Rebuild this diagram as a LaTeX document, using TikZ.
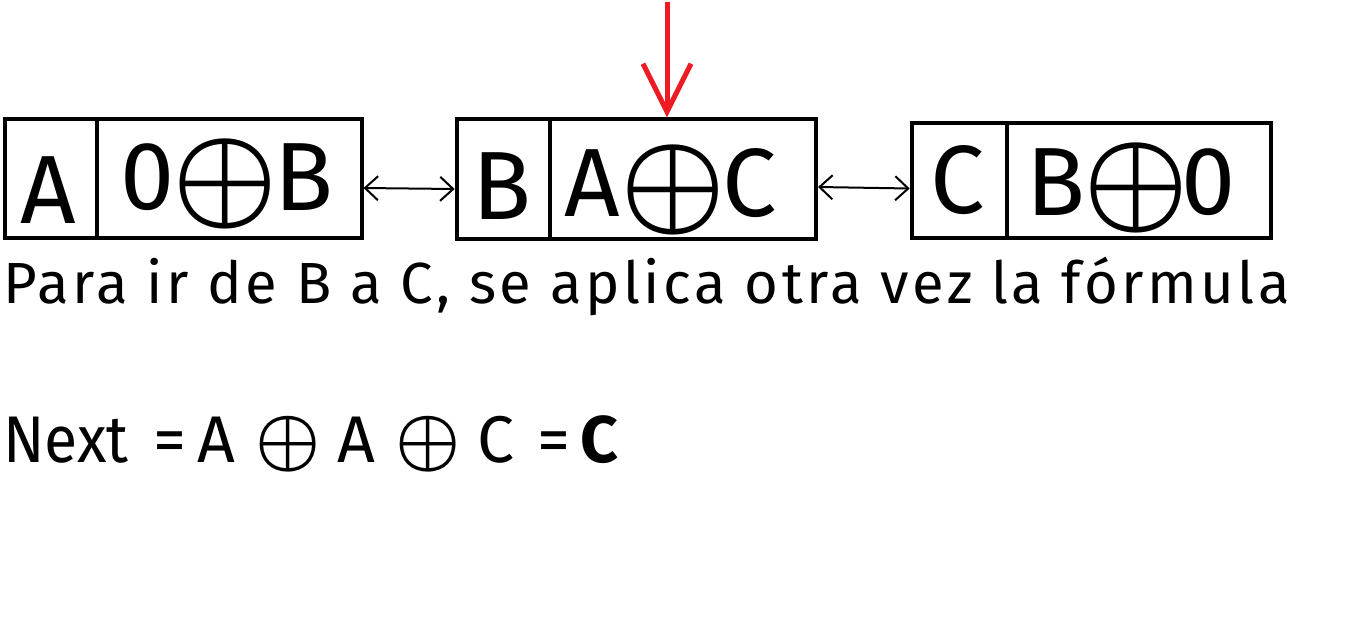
\documentclass[tikz,border=0pt]{standalone}
\usepackage{fontspec}
\setmainfont{Fira Sans}
\usetikzlibrary{arrows.meta}
\definecolor{pred}{RGB}{237,28,36}
\newcommand{\oxs}[1]{{\fontsize{10}{12}\selectfont\scalebox{#1}{\boldmath$\oplus$}}}
\begin{document}
\begin{tikzpicture}[x=1pt,y=-1pt,
  cell/.style={draw, line width=4pt, inner sep=0pt},
  big/.style={font=\fontsize{97}{100}\selectfont, inner sep=0pt},
  ox/.style={inner sep=0pt},
  link/.style={{Straight Barb[length=13pt,width=24pt]}-{Straight Barb[length=13pt,width=24pt]}, line width=2pt},
  txt/.style={font=\fontsize{58}{60}\selectfont\addfontfeatures{LetterSpace=6.0}, inner sep=0pt, anchor=base west},
  txtb/.style={font=\fontsize{66}{70}\selectfont, inner sep=0pt, anchor=base west}]
\useasboundingbox (0,0) rectangle (1364,616);
% box 1
\node[cell, minimum width=91.7pt, minimum height=119pt] (b1l) at (50.9,178) {};
\node[cell, minimum width=264.8pt, minimum height=119pt] (b1r) at (229.1,178) {};
% box 2
\node[cell, minimum width=93.3pt, minimum height=119.4pt] (b2l) at (503.3,179) {};
\node[cell, minimum width=266pt, minimum height=119.4pt] (b2r) at (683,179) {};
% box 3
\node[cell, minimum width=95pt, minimum height=115.6pt] (b3l) at (959.2,180.5) {};
\node[cell, minimum width=264pt, minimum height=115.6pt] (b3r) at (1138.7,180.5) {};
% contents
\node[big] (a1) at (48,190) {A};
\node[big] (a2) at (148,177) {0};
\node[ox] (a3) at (225,184) {\oxs{11.8}};
\node[big] (a4) at (304,177) {B};
\node[big] (c1) at (502,186) {B};
\node[big] (c2) at (592,183) {A};
\node[ox] (c3) at (673,190) {\oxs{11.8}};
\node[big] (c4) at (750,183) {C};
\node[big] (d1) at (958,180) {C};
\node[big] (d2) at (1056,182) {B};
\node[ox] (d3) at (1136,188) {\oxs{11.8}};
\node[big] (d4) at (1209,182) {0};
% links
\draw[link] ([yshift=-10pt]b1r.east) -- ([yshift=-10pt]b2l.west);
\draw[link] ([yshift=-8pt]b2r.east) -- ([yshift=-8pt]b3l.west);
% red arrow
\coordinate (rtop) at (667,2);
\draw[pred, line width=5pt, -{Straight Barb[length=48pt,width=48pt]}] (rtop) -- (rtop |- b2r.north);
% text
\node[txt] (t1) at (3,303) {Para ir de B a C, se aplica otra vez la fórmula};
\node[txtb] (t2) at (3,462) {\makebox[150pt][l]{\scalebox{0.92}[1]{Next}}\makebox[44pt][l]{=}\makebox[58pt][l]{A}\makebox[82pt][l]{\oxs{7.3}}\makebox[58pt][l]{A}\makebox[82pt][l]{\oxs{7.3}}\makebox[60pt][l]{C}\makebox[43pt][l]{=}\textbf{C}};
\end{tikzpicture}
\end{document}
